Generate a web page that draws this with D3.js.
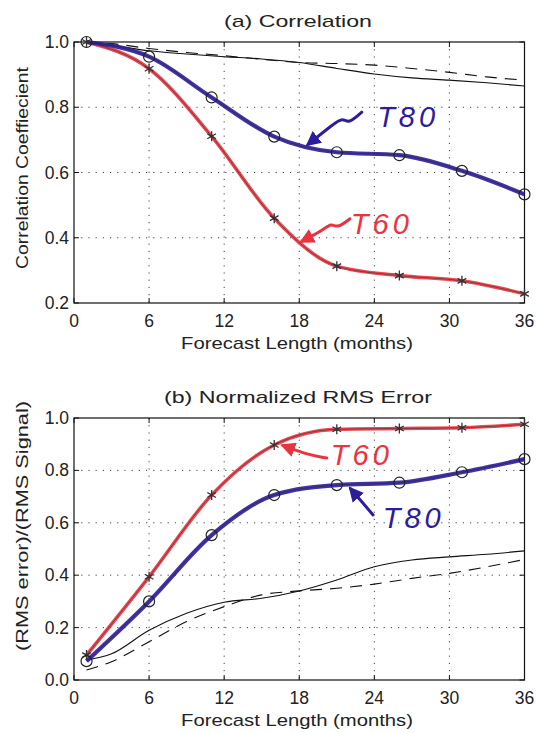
<!DOCTYPE html>
<html>
<head>
<meta charset="utf-8">
<script src="https://d3js.org/d3.v7.min.js"></script>
<style>
  body { margin: 0; background: #fff; }
  svg { display: block; font-family: "Liberation Sans", Arial, sans-serif; }
  .grid line { stroke: #444; stroke-dasharray: 1.2, 6; stroke-width: 1; }
  .frame { fill: none; stroke: #111; stroke-width: 1.2; }
  .tick-label { font-size: 17.5px; fill: #222; }
  .axis-title { font-size: 17px; fill: #222; }
  .panel-title { font-size: 17px; fill: #222; }
  .note { font-size: 29px; font-style: italic; letter-spacing: 4px; }
</style>
</head>
<body>
<div id="chart"></div>
<script>
// forecast months where markers sit
const months = [1, 6, 11, 16, 21, 26, 31, 36];
// reference (black) curves are read at these months
const refMonths = [1, 3, 6, 9, 12, 15, 18, 21, 24, 27, 30, 33, 36];

// (a) correlation
const corrT80 = [1.0, 0.955, 0.83, 0.71, 0.662, 0.653, 0.605, 0.533];
const corrT60 = [1.0, 0.918, 0.711, 0.46, 0.313, 0.284, 0.268, 0.228];
const corrSolid = [1.0, 0.99, 0.973, 0.963, 0.955, 0.948, 0.937, 0.919, 0.902, 0.89, 0.883, 0.875, 0.865];
const corrDashed = [1.0, 0.995, 0.98, 0.968, 0.958, 0.947, 0.937, 0.934, 0.929, 0.919, 0.907, 0.893, 0.883];

// (b) normalized rms error
const rmsT60 = [0.095, 0.394, 0.706, 0.897, 0.957, 0.96, 0.963, 0.976];
const rmsT80 = [0.072, 0.30, 0.553, 0.706, 0.744, 0.753, 0.793, 0.843];
const rmsSolid = [0.076, 0.1, 0.19, 0.255, 0.297, 0.312, 0.34, 0.382, 0.432, 0.458, 0.47, 0.48, 0.493];
const rmsDashed = [0.038, 0.07, 0.146, 0.223, 0.28, 0.325, 0.34, 0.35, 0.366, 0.388, 0.407, 0.432, 0.46];

const xTicks = [0, 6, 12, 18, 24, 30, 36];
const yTicksA = [0.2, 0.4, 0.6, 0.8, 1.0];
const yTicksB = [0.0, 0.2, 0.4, 0.6, 0.8, 1.0];

const RED = "#e8343f", BLUE = "#2c1d9c";

const svg = d3.select("#chart").append("svg")
  .attr("width", 538).attr("height", 733);

// arrowheads
const defs = svg.append("defs");
[["headRed", RED], ["headBlue", BLUE]].forEach(([id, c]) => {
  defs.append("marker").attr("id", id)
    .attr("viewBox", "0 0 10 10").attr("refX", 8).attr("refY", 5)
    .attr("markerWidth", 5).attr("markerHeight", 5)
    .attr("orient", "auto")
    .append("path").attr("d", "M0,0L10,5L0,10z").attr("fill", c);
});

function drawPanel(p) {
  const g = svg.append("g");
  const x = d3.scaleLinear().domain([0, 36]).range([74, 524.5]);
  const y = d3.scaleLinear().domain(p.yDomain).range([p.bottom, p.top]);

  // dotted grid
  const grid = g.append("g").attr("class", "grid");
  grid.selectAll(".vx").data(xTicks.slice(1, -1)).enter().append("line")
    .attr("x1", d => x(d)).attr("x2", d => x(d))
    .attr("y1", p.top).attr("y2", p.bottom);
  grid.selectAll(".hy").data(p.yTicks.filter(v => v > p.yDomain[0] && v < p.yDomain[1])).enter().append("line")
    .attr("x1", x(0)).attr("x2", x(36))
    .attr("y1", d => y(d)).attr("y2", d => y(d));

  // inward tick marks on all four sides
  const tk = g.append("g").attr("stroke", "#111");
  xTicks.forEach(d => {
    tk.append("line").attr("x1", x(d)).attr("x2", x(d)).attr("y1", p.bottom).attr("y2", p.bottom - 5);
    tk.append("line").attr("x1", x(d)).attr("x2", x(d)).attr("y1", p.top).attr("y2", p.top + 5);
  });
  p.yTicks.forEach(d => {
    tk.append("line").attr("x1", x(0)).attr("x2", x(0) + 5).attr("y1", y(d)).attr("y2", y(d));
    tk.append("line").attr("x1", x(36)).attr("x2", x(36) - 5).attr("y1", y(d)).attr("y2", y(d));
  });

  g.append("rect").attr("class", "frame")
    .attr("x", x(0)).attr("y", p.top)
    .attr("width", x(36) - x(0)).attr("height", p.bottom - p.top);

  // tick labels
  g.selectAll(".xl").data(xTicks).enter().append("text")
    .attr("class", "tick-label").attr("text-anchor", "middle")
    .attr("x", d => x(d)).attr("y", p.bottom + 24).text(d => d);
  g.selectAll(".yl").data(p.yTicks).enter().append("text")
    .attr("class", "tick-label").attr("text-anchor", "end")
    .attr("x", x(0) - 5).attr("y", d => y(d) + 6).text(d3.format(".1f"));

  // titles (the original lettering is wide, so stretch to its measured length)
  g.append("text").attr("class", "panel-title").attr("text-anchor", "middle")
    .attr("x", 298).attr("y", p.top - 15)
    .attr("textLength", p.titleLen).attr("lengthAdjust", "spacingAndGlyphs")
    .text(p.title);
  g.append("text").attr("class", "axis-title").attr("text-anchor", "middle")
    .attr("x", 297).attr("y", p.bottom + 46)
    .attr("textLength", 232).attr("lengthAdjust", "spacingAndGlyphs")
    .text("Forecast Length (months)");
  g.append("text").attr("class", "axis-title").attr("text-anchor", "middle")
    .attr("transform", `translate(28,${p.yLabelMid}) rotate(-90)`)
    .attr("textLength", p.yLabelLen).attr("lengthAdjust", "spacingAndGlyphs")
    .text(p.yLabel);

  const line = d3.line().x(d => x(d[0])).y(d => y(d[1])).curve(d3.curveMonotoneX);

  // reference curves
  g.append("path").attr("d", line(d3.zip(refMonths, p.solid)))
    .attr("fill", "none").attr("stroke", "#111").attr("stroke-width", 1.1);
  g.append("path").attr("d", line(d3.zip(refMonths, p.dashed)))
    .attr("fill", "none").attr("stroke", "#111").attr("stroke-width", 1.1)
    .attr("stroke-dasharray", "12,8");

  // model curves: coloured highlight with the thin black original line inside
  [[p.t60, RED, 3.6], [p.t80, BLUE, 4.2]].forEach(([vals, c, w]) => {
    const pts = d3.zip(months, vals);
    g.append("path").attr("d", line(pts))
      .attr("fill", "none").attr("stroke", c).attr("stroke-width", w)
      .attr("stroke-opacity", 0.9);
    g.append("path").attr("d", line(pts))
      .attr("fill", "none").attr("stroke", "#222").attr("stroke-width", 0.8)
      .attr("stroke-opacity", 0.6);
  });

  // markers
  const star = d3.symbol().type(d3.symbolAsterisk).size(70);
  g.selectAll(".st").data(d3.zip(months, p.t60)).enter().append("path")
    .attr("d", star).attr("transform", d => `translate(${x(d[0])},${y(d[1])})`)
    .attr("fill", "none").attr("stroke", "#333").attr("stroke-width", 1.3);
  g.selectAll(".ci").data(d3.zip(months, p.t80)).enter().append("circle")
    .attr("cx", d => x(d[0])).attr("cy", d => y(d[1])).attr("r", 5.5)
    .attr("fill", "none").attr("stroke", "#222").attr("stroke-width", 1.2);

  // hand-written notes
  const arrowLine = d3.line().x(d => x(d[0])).y(d => y(d[1])).curve(d3.curveBasis);
  p.notes.forEach(n => {
    const c = n.label === "T60" ? RED : BLUE;
    g.append("path").attr("d", arrowLine(n.arrow))
      .attr("fill", "none").attr("stroke", c).attr("stroke-width", 3)
      .attr("stroke-linecap", "round")
      .attr("marker-end", `url(#${c === RED ? "headRed" : "headBlue"})`);
    g.append("text").attr("class", "note").attr("fill", c)
      .attr("text-anchor", "middle")
      .attr("x", x(n.at[0])).attr("y", y(n.at[1])).text(n.label);
  });
}

drawPanel({
  top: 42, bottom: 303, yDomain: [0.2, 1.0], yTicks: yTicksA,
  title: "(a) Correlation", titleLen: 148,
  yLabel: "Correlation Coeffiecient", yLabelMid: 168, yLabelLen: 202,
  t60: corrT60, t80: corrT80, solid: corrSolid, dashed: corrDashed,
  notes: [
    { label: "T80", at: [26.7, 0.74],
      arrow: [[23.0, 0.785], [21.9, 0.748], [21.5, 0.769], [20.7, 0.748], [18.7, 0.686]] },
    { label: "T60", at: [24.6, 0.41],
      arrow: [[22.05, 0.458], [21.0, 0.428], [20.6, 0.446], [19.8, 0.421], [18.2, 0.389]] }
  ]
});

drawPanel({
  top: 418, bottom: 680, yDomain: [0.0, 1.0], yTicks: yTicksB,
  title: "(b) Normalized RMS Error", titleLen: 268,
  yLabel: "(RMS error)/(RMS Signal)", yLabelMid: 526, yLabelLen: 250,
  t60: rmsT60, t80: rmsT80, solid: rmsSolid, dashed: rmsDashed,
  notes: [
    { label: "T60", at: [23.0, 0.82],
      arrow: [[20.2, 0.847], [18.5, 0.862], [16.7, 0.895]] },
    { label: "T80", at: [27.15, 0.58],
      arrow: [[23.9, 0.63], [23.0, 0.68], [22.1, 0.73]] }
  ]
});
</script>
</body>
</html>
